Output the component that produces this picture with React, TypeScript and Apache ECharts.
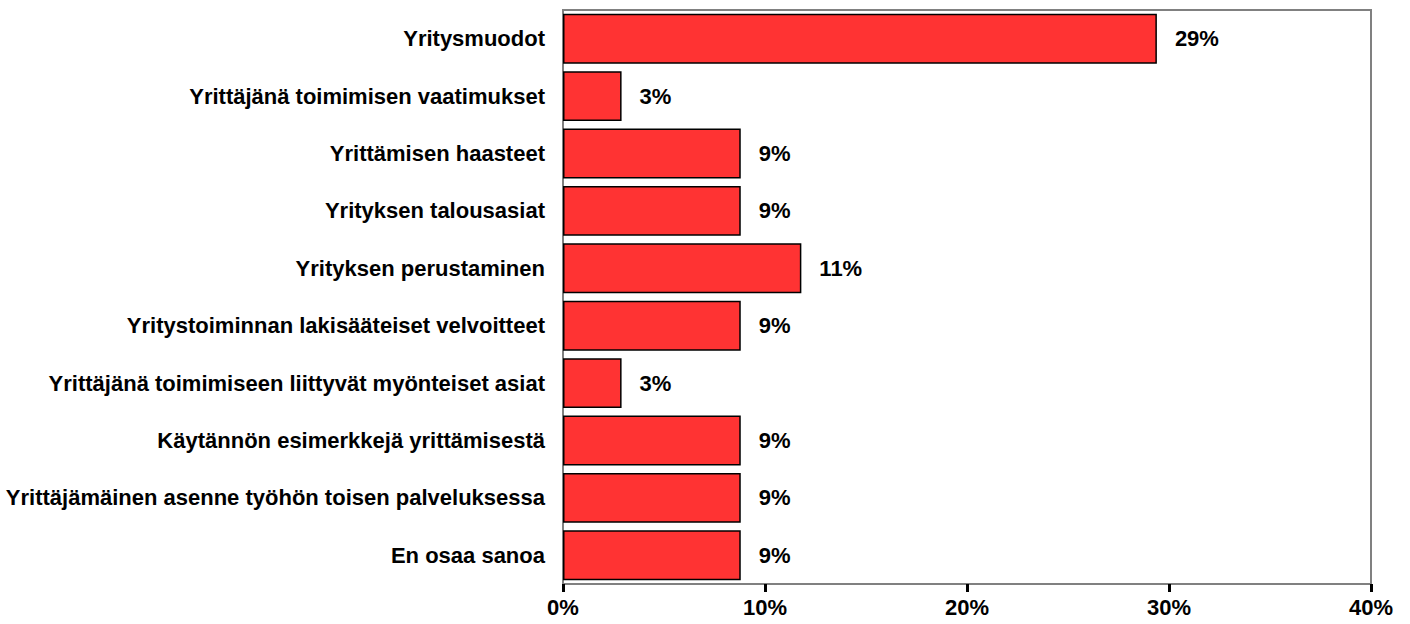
import React, { useEffect, useRef } from "react";
import * as echarts from "echarts";

const categories = [
  "Yritysmuodot",
  "Yrittäjänä toimimisen vaatimukset",
  "Yrittämisen haasteet",
  "Yrityksen talousasiat",
  "Yrityksen perustaminen",
  "Yritystoiminnan lakisääteiset velvoitteet",
  "Yrittäjänä toimimiseen liittyvät myönteiset asiat",
  "Käytännön esimerkkejä yrittämisestä",
  "Yrittäjämäinen asenne työhön toisen palveluksessa",
  "En osaa sanoa",
];

const values = [29.4, 2.9, 8.8, 8.8, 11.8, 8.8, 2.9, 8.8, 8.8, 8.8];
const valueLabels = ["29%", "3%", "9%", "9%", "11%", "9%", "3%", "9%", "9%", "9%"];
const xTicks = [0, 10, 20, 30, 40];

export default function App() {
  const ref = useRef<HTMLDivElement>(null);
  useEffect(() => {
    document.body.style.margin = "0";
    const chart = echarts.init(ref.current!, null, { renderer: "svg" });
    const font = "'Liberation Sans', Arial, sans-serif";
    chart.setOption({
      animation: false,
      grid: {
        left: 563,
        right: 39,
        top: 10,
        bottom: 40,
        show: true,
        borderColor: "#808080",
        borderWidth: 2,
        backgroundColor: "transparent",
      },
      xAxis: {
        type: "value",
        min: xTicks[0],
        max: xTicks[xTicks.length - 1],
        interval: 10,
        axisLine: { show: true, lineStyle: { color: "#808080", width: 2 } },
        axisTick: { show: true, length: 8, lineStyle: { color: "#000", width: 3 } },
        splitLine: { show: false },
        axisLabel: {
          formatter: (v: number) => v + "%",
          color: "#000",
          fontFamily: font,
          fontWeight: "bold",
          fontSize: 22,
          margin: 12,
        },
      },
      yAxis: {
        type: "category",
        data: categories,
        inverse: true,
        axisLine: { show: true, lineStyle: { color: "#808080", width: 2 } },
        axisTick: { show: false },
        axisLabel: {
          color: "#000",
          fontFamily: font,
          fontWeight: "bold",
          fontSize: 22,
          margin: 18,
        },
      },
      series: [
        {
          type: "bar",
          data: values,
          barWidth: "87%",
          itemStyle: { color: "#FF3333", borderColor: "#000", borderWidth: 1.5 },
          label: {
            show: true,
            position: "right",
            distance: 18,
            formatter: (p: any) => valueLabels[p.dataIndex],
            color: "#000",
            fontFamily: font,
            fontWeight: "bold",
            fontSize: 22,
          },
        },
      ],
    });
    return () => chart.dispose();
  }, []);
  return <div ref={ref} style={{ width: 1410, height: 624 }} />;
}
